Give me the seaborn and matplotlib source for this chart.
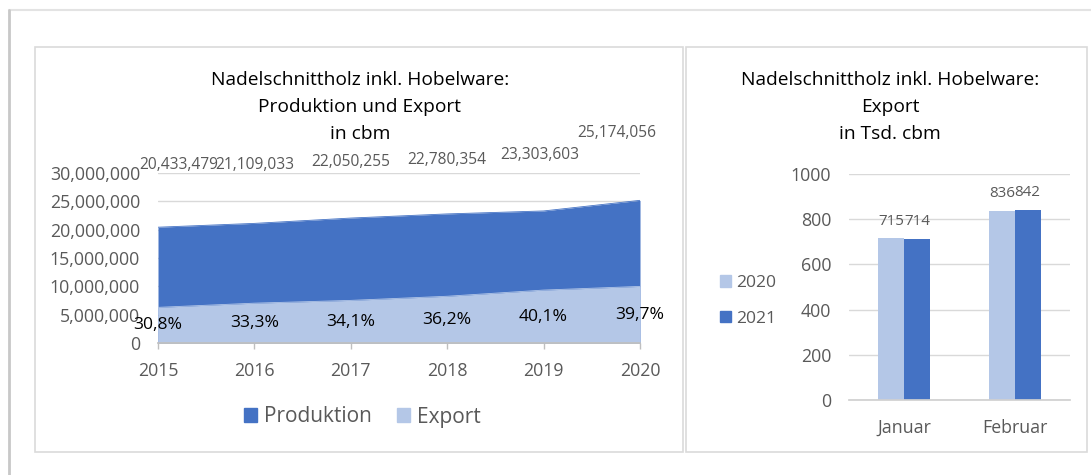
import numpy as np
import pandas as pd
import seaborn as sns
import matplotlib.pyplot as plt
from matplotlib.patches import Rectangle, Patch
from matplotlib.lines import Line2D

# data
years = ["2015", "2016", "2017", "2018", "2019", "2020"]
production = [20433479, 21109033, 22050255, 22780354, 23303603, 25174056]
export = [6290000, 7030000, 7520000, 8250000, 9340000, 9990000]
export_share = ["30,8%", "33,3%", "34,1%", "36,2%", "40,1%", "39,7%"]

months = ["Januar", "Februar"]
export_2020 = [715, 836]
export_2021 = [714, 842]

DARK = "#4472C4"
LIGHT = "#B4C7E7"
GRID = "#D9D9D9"
TEXT = "#595959"

sns.set_theme(style="white")
plt.rcParams["font.family"] = ["Open Sans", "DejaVu Sans"]

W, H = 1091, 475
fig = plt.figure(figsize=(W / 100, H / 100), dpi=100)


def px_axes(left, top, right, bottom):
    return fig.add_axes([left / W, 1 - bottom / H, (right - left) / W, (bottom - top) / H])


def fx(x):
    return x / W


def fy(y):
    return 1 - y / H


def px_to_pt(p):
    return p * 72 / 100


# outer frame and panel boxes
fig.add_artist(Line2D([fx(9), 1], [fy(10), fy(10)], color="#E3E3E3", lw=1.5))
fig.add_artist(Line2D([fx(9), fx(9)], [fy(10), 0], color="#C8C8C8", lw=2))
for l, t, r, b in [(35, 47, 683, 452), (686, 47, 1087, 452)]:
    fig.add_artist(Rectangle((fx(l), fy(b)), fx(r - l), (b - t) / H,
                             fill=False, edgecolor="#DADADA", lw=1.2))

# ---- left panel: area chart ----
ax = px_axes(158, 173, 640, 343)
x = np.arange(len(years))
sns.lineplot(x=x, y=production, ax=ax, color=DARK, lw=0.6)
ax.fill_between(x, production, color=DARK, lw=0)
sns.lineplot(x=x, y=export, ax=ax, color=LIGHT, lw=0.6)
ax.fill_between(x, export, color=LIGHT, lw=0)

ax.set_xlim(0, len(years) - 1)
ax.set_ylim(0, 30_000_000)
ax.set_yticks(range(0, 30_000_001, 5_000_000))
ax.set_yticklabels([f"{v:,}" for v in range(0, 30_000_001, 5_000_000)])
ax.set_xticks(x)
ax.set_xticklabels(years)
ax.yaxis.grid(True, color=GRID, lw=1)
ax.set_axisbelow(True)
for s in ["top", "right", "left"]:
    ax.spines[s].set_visible(False)
ax.spines["bottom"].set_color("#BFBFBF")
ax.tick_params(axis="y", length=0, pad=px_to_pt(18), labelsize=12.8, labelcolor=TEXT)
ax.tick_params(axis="x", length=px_to_pt(6), width=1, color="#BFBFBF", direction="out",
               pad=px_to_pt(13), labelsize=12.8, labelcolor=TEXT, bottom=True)
ax.set_xlabel("")
ax.set_ylabel("")

# production labels (Excel nudged the outer ones inwards)
nudge_x = [21, 0, 0, 0, -4, -23]
nudge_y = [62, 58, 56, 54, 56, 67]
for i, v in enumerate(production):
    ax.annotate(f"{v:,}", (i, v), xytext=(px_to_pt(nudge_x[i]), px_to_pt(nudge_y[i])),
                textcoords="offset points", ha="center", va="center",
                fontsize=11.2, color=TEXT, annotation_clip=False)
for i, v in enumerate(export):
    ax.annotate(export_share[i], (i, v / 2), ha="center", va="center",
                fontsize=12.6, color="black", annotation_clip=False)

for k, line in enumerate(["Nadelschnittholz inkl. Hobelware:", "Produktion und Export", "in cbm"]):
    fig.text(fx(360), fy(80 + 27 * k), line, ha="center", va="center", fontsize=13.8, color="black")

fig.legend(handles=[Patch(color=DARK, label="Produktion"), Patch(color=LIGHT, label="Export")],
           loc="center", bbox_to_anchor=(fx(362), fy(417)), ncol=2, frameon=False,
           fontsize=15, handlelength=0.63, handleheight=0.63, handletextpad=0.33,
           columnspacing=1.2, labelcolor=TEXT)

# ---- right panel: bar chart ----
ax2 = px_axes(849, 174, 1070, 400)
bar_df = pd.DataFrame({
    "Monat": months * 2,
    "Jahr": ["2020"] * len(months) + ["2021"] * len(months),
    "Wert": export_2020 + export_2021,
})
sns.barplot(data=bar_df, x="Monat", y="Wert", hue="Jahr", palette=[LIGHT, DARK],
            width=0.47, ax=ax2, legend=False, saturation=1, linewidth=0, edgecolor="none")
for c in ax2.containers:
    ax2.bar_label(c, fmt="%d", padding=7, fontsize=10.9, color=TEXT)

ax2.set_ylim(0, 1000)
ax2.set_yticks(range(0, 1001, 200))
ax2.set_xlim(-0.5, 1.5)
ax2.yaxis.grid(True, color=GRID, lw=1)
ax2.set_axisbelow(True)
for s in ["top", "right", "left"]:
    ax2.spines[s].set_visible(False)
ax2.spines["bottom"].set_color("#D0D0D0")
ax2.tick_params(axis="y", length=0, pad=px_to_pt(18), labelsize=12.8, labelcolor=TEXT)
ax2.tick_params(axis="x", length=0, pad=px_to_pt(19), labelsize=12.8, labelcolor=TEXT)
ax2.set_xlabel("")
ax2.set_ylabel("")

for k, line in enumerate(["Nadelschnittholz inkl. Hobelware:", "Export", "in Tsd. cbm"]):
    fig.text(fx(890), fy(80 + 27 * k), line, ha="center", va="center", fontsize=13.8, color="black")

fig.legend(handles=[Patch(color=LIGHT, label="2020"), Patch(color=DARK, label="2021")],
           loc="center left", bbox_to_anchor=(fx(704), fy(301)), frameon=False,
           fontsize=12.6, handlelength=0.63, handleheight=0.63, handletextpad=0.3,
           labelspacing=1.1, labelcolor=TEXT)

fig.savefig("out.png", dpi=100, facecolor="white")
